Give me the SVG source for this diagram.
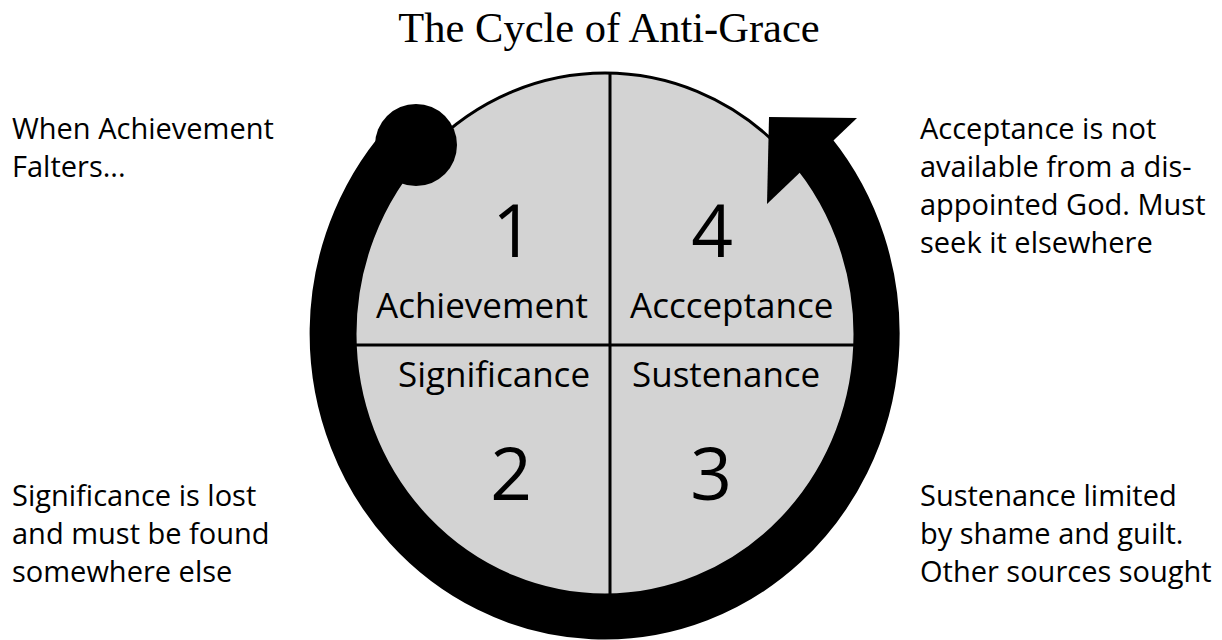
<svg xmlns="http://www.w3.org/2000/svg" width="1222" height="640" viewBox="0 0 1222 640">
  <style>
    .title { font-family: "Liberation Serif", "Times New Roman", serif; font-size: 42.5px; fill: #000; }
    .lbl { font-family: "Open Sans", "DejaVu Sans", sans-serif; font-size: 35px; fill: #000; }
    .num { font-family: "Open Sans", "DejaVu Sans", sans-serif; font-size: 73px; fill: #000; text-anchor: middle; }
    .side { font-family: "Open Sans", "DejaVu Sans", sans-serif; font-size: 29px; fill: #000; }
    .div { stroke: #000; stroke-width: 3; fill: none; }
  </style>
  <rect width="1222" height="640" fill="#fff"/>
  <text class="title" x="609" y="42" text-anchor="middle">The Cycle of Anti-Grace</text>

  <g id="circle">
    <ellipse cx="605" cy="334" rx="250" ry="261" fill="#d3d3d3" stroke="#000" stroke-width="3"/>
    <line class="div" x1="610" y1="73" x2="610" y2="595"/>
    <line class="div" x1="355" y1="345" x2="855" y2="345"/>
  </g>

  <g id="connectors">
    <path d="M 412 133 A 272.5 283.5 0 1 0 813.7 151.7" fill="none" stroke="#000" stroke-width="45"/>
    <circle cx="416" cy="145" r="41" fill="#000"/>
    <polygon points="769,117 857,118 767,204" fill="#000"/>
  </g>

  <g id="q1">
    <text class="num" x="513" y="257">1</text>
    <text class="lbl" x="376" y="318">Achievement</text>
  </g>
  <g id="q4">
    <text class="num" x="712" y="257">4</text>
    <text class="lbl" x="630" y="318">Accceptance</text>
  </g>
  <g id="q2">
    <text class="lbl" x="398" y="387">Significance</text>
    <text class="num" x="511" y="500">2</text>
  </g>
  <g id="q3">
    <text class="lbl" x="632" y="387">Sustenance</text>
    <text class="num" x="711" y="500">3</text>
  </g>

  <g id="note-top-left">
    <text class="side" x="12" y="139">When Achievement</text>
    <text class="side" x="12" y="177">Falters...</text>
  </g>
  <g id="note-top-right">
    <text class="side" x="920" y="139">Acceptance is not</text>
    <text class="side" x="920" y="177">available from a dis-</text>
    <text class="side" x="920" y="215">appointed God. Must</text>
    <text class="side" x="920" y="253">seek it elsewhere</text>
  </g>
  <g id="note-bottom-left">
    <text class="side" x="12" y="506">Significance is lost</text>
    <text class="side" x="12" y="544">and must be found</text>
    <text class="side" x="12" y="582">somewhere else</text>
  </g>
  <g id="note-bottom-right">
    <text class="side" x="920" y="506">Sustenance limited</text>
    <text class="side" x="920" y="544">by shame and guilt.</text>
    <text class="side" x="920" y="582">Other sources sought</text>
  </g>
</svg>
